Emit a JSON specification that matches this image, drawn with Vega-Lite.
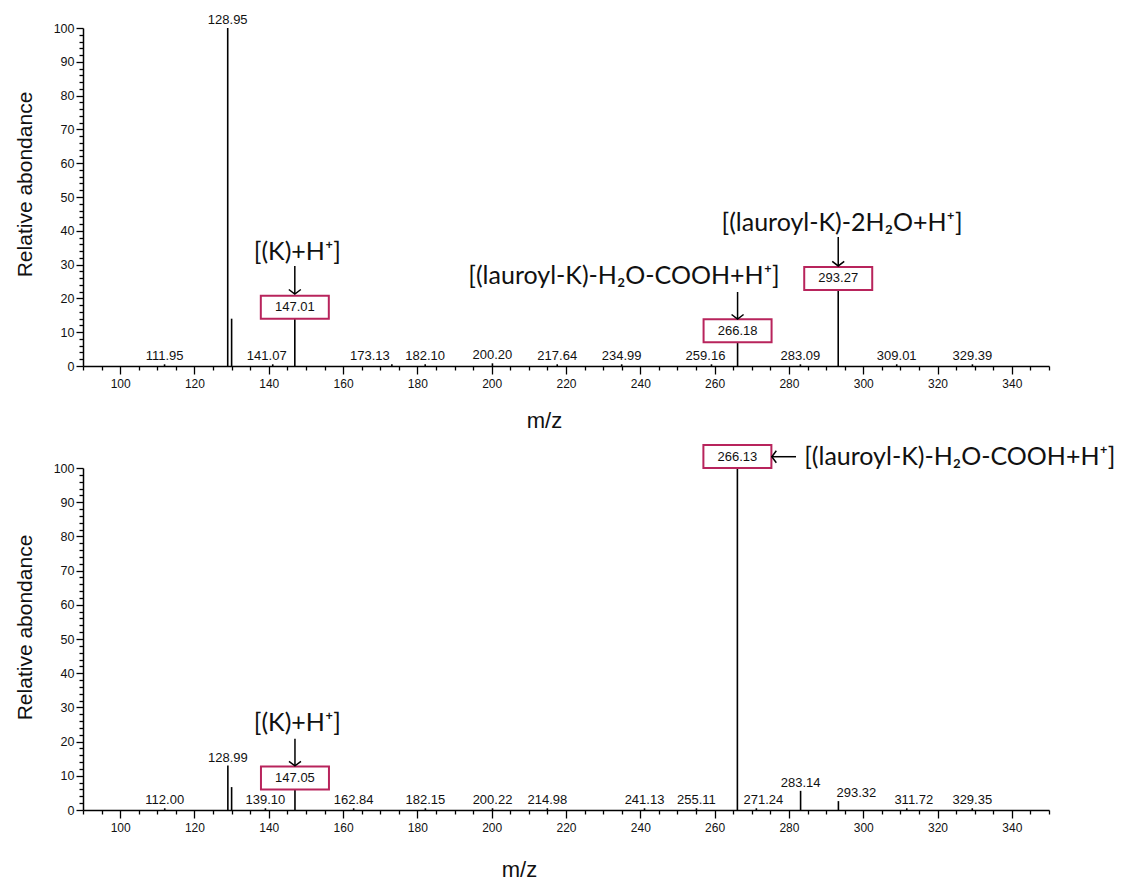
{
  "$schema": "https://vega.github.io/schema/vega-lite/v6.json",
  "padding": {"left": 14, "top": 14, "right": 2, "bottom": 0},
  "background": "white",
  "config": {
    "view": {"stroke": null},
    "font": "Liberation Sans",
    "axis": {
      "grid": false,
      "domainColor": "#000000",
      "domainWidth": 1.5,
      "tickColor": "#000000",
      "tickWidth": 1.3,
      "labelColor": "#111111",
      "labelFont": "Liberation Sans",
      "labelOverlap": false,
      "labelFlush": false,
      "titleColor": "#111111",
      "titleFont": "Liberation Sans",
      "titleFontWeight": "normal"
    }
  },
  "bounds": "flush",
  "spacing": 102,
  "vconcat": [
    {
      "width": 966,
      "height": 338,
      "encoding": {
        "x": {
          "field": "mz", "type": "quantitative",
          "scale": {"domain": [90, 350], "nice": false, "zero": false},
          "axis": {
            "values": [90,95,100,105,110,115,120,125,130,135,140,145,150,155,160,165,170,175,180,185,190,195,200,205,210,215,220,225,230,235,240,245,250,255,260,265,270,275,280,285,290,295,300,305,310,315,320,325,330,335,340,345,350],
            "labelExpr": "datum.value % 20 === 0 && datum.value >= 100 ? datum.label : ''",
            "tickSize": {"condition": {"test": "datum.value % 20 === 0", "value": 8}, "value": 4},
            "labelFontSize": 12,
            "labelPadding": 4,
            "title": "m/z",
            "titleFontSize": 22,
            "titleX": 461,
            "titleY": 61,
            "titleAlign": "center",
            "titleBaseline": "alphabetic"
          }
        },
        "y": {
          "field": "ab", "type": "quantitative",
          "scale": {"domain": [0, 100], "nice": false},
          "axis": {
            "values": [0,2,4,6,8,10,12,14,16,18,20,22,24,26,28,30,32,34,36,38,40,42,44,46,48,50,52,54,56,58,60,62,64,66,68,70,72,74,76,78,80,82,84,86,88,90,92,94,96,98,100],
            "labelExpr": "datum.value % 10 === 0 ? datum.label : ''",
            "tickSize": {"condition": {"test": "datum.value % 10 === 0", "value": 7}, "value": 4},
            "labelFontSize": 12.5,
            "labelPadding": 2,
            "title": "Relative abondance",
            "titleFontSize": 21,
            "titleX": -58,
            "titleY": 156,
            "titleAlign": "center",
            "titleBaseline": "middle",
            "titleAngle": 270
          }
        }
      },
      "layer": [
        {
          "data": {"name": "peaksTop", "values": [
            {"mz": 111.95, "ab": 0.5, "label": "111.95", "kind": "plain"},
            {"mz": 128.95, "ab": 100, "label": "128.95", "kind": "plain"},
            {"mz": 130.0, "ab": 14, "label": "", "kind": "none"},
            {"mz": 141.07, "ab": 0.5, "label": "141.07", "kind": "plain"},
            {"mz": 147.01, "ab": 14, "label": "147.01", "kind": "box"},
            {"mz": 173.13, "ab": 0.5, "label": "173.13", "kind": "plain"},
            {"mz": 182.10, "ab": 0.5, "label": "182.10", "kind": "plain"},
            {"mz": 200.20, "ab": 0.8, "label": "200.20", "kind": "plain"},
            {"mz": 217.64, "ab": 0.5, "label": "217.64", "kind": "plain"},
            {"mz": 234.99, "ab": 0.5, "label": "234.99", "kind": "plain"},
            {"mz": 259.16, "ab": 0.5, "label": "259.16", "kind": "plain"},
            {"mz": 266.18, "ab": 7, "label": "266.18", "kind": "box"},
            {"mz": 283.09, "ab": 0.5, "label": "283.09", "kind": "plain"},
            {"mz": 293.27, "ab": 22.5, "label": "293.27", "kind": "box"},
            {"mz": 309.01, "ab": 0.5, "label": "309.01", "kind": "plain"},
            {"mz": 329.39, "ab": 0.5, "label": "329.39", "kind": "plain"}
          ]},
          "mark": {"type": "rule", "color": "#000000", "strokeWidth": 1.6},
          "encoding": {"y2": {"datum": 0}}
        },
        {
          "data": {"name": "peaksTop"},
          "transform": [{"filter": "datum.kind === 'plain' && datum.label !== '173.13' && datum.label !== '141.07' && datum.label !== '259.16'"}],
          "mark": {"type": "text", "fontSize": 13, "baseline": "bottom", "dy": -1, "color": "#111111", "font": "Liberation Sans"},
          "encoding": {"text": {"field": "label"}}
        },
        {
          "data": {"name": "peaksTop"},
          "transform": [{"filter": "datum.label === '173.13'"}],
          "mark": {"type": "text", "fontSize": 13, "baseline": "bottom", "dy": -1, "dx": -22, "color": "#111111", "font": "Liberation Sans"},
          "encoding": {"text": {"field": "label"}}
        },
        {
          "data": {"name": "peaksTop"},
          "transform": [{"filter": "datum.label === '141.07' || datum.label === '259.16'"}],
          "mark": {"type": "text", "fontSize": 13, "baseline": "bottom", "dy": -1, "dx": -6, "color": "#111111", "font": "Liberation Sans"},
          "encoding": {"text": {"field": "label"}}
        },
        {
          "data": {"name": "peaksTop"},
          "transform": [{"filter": "datum.kind === 'box'"}],
          "mark": {"type": "point", "shape": "M-1,-0.676H1V0H-1Z", "size": 4624, "filled": true, "fill": "#ffffff", "stroke": "#b8245c", "strokeWidth": 2, "opacity": 1, "fillOpacity": 1, "strokeOpacity": 1}
        },
        {
          "data": {"name": "peaksTop"},
          "transform": [{"filter": "datum.kind === 'box'"}],
          "mark": {"type": "text", "fontSize": 13, "baseline": "middle", "dy": -11.5, "color": "#111111", "font": "Liberation Sans"},
          "encoding": {"text": {"field": "label"}}
        },
        {
          "data": {"name": "arrowsTop", "values": [
            {"mz": 147.01, "ab": 29.6, "mz2": 147.01, "ab2": 21.3, "dir": "down"},
            {"mz": 266.18, "ab": 21.9, "mz2": 266.18, "ab2": 13.9, "dir": "down"},
            {"mz": 293.27, "ab": 38.2, "mz2": 293.27, "ab2": 29.6, "dir": "down"}
          ]},
          "mark": {"type": "rule", "color": "#000000", "strokeWidth": 1.5},
          "encoding": {"x2": {"field": "mz2"}, "y2": {"field": "ab2"}}
        },
        {
          "data": {"name": "arrowsTop"},
          "mark": {"type": "point", "size": 144, "filled": false, "stroke": "#000000", "strokeWidth": 1.5, "opacity": 1},
          "encoding": {
            "x": {"field": "mz2", "type": "quantitative"},
            "y": {"field": "ab2", "type": "quantitative"},
            "shape": {"field": "dir", "type": "nominal", "scale": {"domain": ["down", "left"], "range": ["M-1,-0.75L0,0L1,-0.75", "M0.75,-1L0,0L0.75,1"]}, "legend": null}
          }
        },
        {
          "data": {"values": [
            {"mz": 147.7, "ab": 33.7, "text": "[(K)+H⁺]"},
            {"mz": 235.6, "ab": 26.6, "text": "[(lauroyl-K)-H₂O-COOH+H⁺]"},
            {"mz": 294.3, "ab": 42.3, "text": "[(lauroyl-K)-2H₂O+H⁺]"}
          ]},
          "mark": {"type": "text", "font": "Lato", "fontSize": 25, "baseline": "middle", "align": "center", "color": "#111111"},
          "encoding": {"text": {"field": "text"}}
        }
      ]
    },
    {
      "width": 966,
      "height": 342,
      "encoding": {
        "x": {
          "field": "mz", "type": "quantitative",
          "scale": {"domain": [90, 350], "nice": false, "zero": false},
          "axis": {
            "values": [90,95,100,105,110,115,120,125,130,135,140,145,150,155,160,165,170,175,180,185,190,195,200,205,210,215,220,225,230,235,240,245,250,255,260,265,270,275,280,285,290,295,300,305,310,315,320,325,330,335,340,345,350],
            "labelExpr": "datum.value % 20 === 0 && datum.value >= 100 ? datum.label : ''",
            "tickSize": {"condition": {"test": "datum.value % 20 === 0", "value": 8}, "value": 4},
            "labelFontSize": 12,
            "labelPadding": 4,
            "title": "m/z",
            "titleFontSize": 22,
            "titleX": 436,
            "titleY": 66,
            "titleAlign": "center",
            "titleBaseline": "alphabetic"
          }
        },
        "y": {
          "field": "ab", "type": "quantitative",
          "scale": {"domain": [0, 100], "nice": false},
          "axis": {
            "values": [0,2,4,6,8,10,12,14,16,18,20,22,24,26,28,30,32,34,36,38,40,42,44,46,48,50,52,54,56,58,60,62,64,66,68,70,72,74,76,78,80,82,84,86,88,90,92,94,96,98,100],
            "labelExpr": "datum.value % 10 === 0 ? datum.label : ''",
            "tickSize": {"condition": {"test": "datum.value % 10 === 0", "value": 7}, "value": 4},
            "labelFontSize": 12.5,
            "labelPadding": 2,
            "title": "Relative abondance",
            "titleFontSize": 21,
            "titleX": -58,
            "titleY": 159,
            "titleAlign": "center",
            "titleBaseline": "middle",
            "titleAngle": 270
          }
        }
      },
      "layer": [
        {
          "data": {"name": "peaksBottom", "values": [
            {"mz": 112.00, "ab": 0.5, "label": "112.00", "kind": "plain"},
            {"mz": 128.99, "ab": 13, "label": "128.99", "kind": "plain"},
            {"mz": 130.0, "ab": 6.7, "label": "", "kind": "none"},
            {"mz": 139.10, "ab": 0.5, "label": "139.10", "kind": "plain"},
            {"mz": 147.05, "ab": 6, "label": "147.05", "kind": "box"},
            {"mz": 162.84, "ab": 0.5, "label": "162.84", "kind": "plain"},
            {"mz": 182.15, "ab": 0.5, "label": "182.15", "kind": "plain"},
            {"mz": 200.22, "ab": 0.5, "label": "200.22", "kind": "plain"},
            {"mz": 214.98, "ab": 0.5, "label": "214.98", "kind": "plain"},
            {"mz": 241.13, "ab": 0.5, "label": "241.13", "kind": "plain"},
            {"mz": 255.11, "ab": 0.5, "label": "255.11", "kind": "plain"},
            {"mz": 266.13, "ab": 100, "label": "266.13", "kind": "box"},
            {"mz": 271.24, "ab": 0.5, "label": "271.24", "kind": "plain"},
            {"mz": 283.14, "ab": 5.6, "label": "283.14", "kind": "plain"},
            {"mz": 293.32, "ab": 2.6, "label": "293.32", "kind": "plain"},
            {"mz": 311.72, "ab": 0.5, "label": "311.72", "kind": "plain"},
            {"mz": 329.35, "ab": 0.5, "label": "329.35", "kind": "plain"}
          ]},
          "mark": {"type": "rule", "color": "#000000", "strokeWidth": 1.6},
          "encoding": {"y2": {"datum": 0}}
        },
        {
          "data": {"name": "peaksBottom"},
          "transform": [{"filter": "datum.kind === 'plain' && datum.label !== '271.24' && datum.label !== '293.32' && datum.label !== '311.72'"}],
          "mark": {"type": "text", "fontSize": 13, "baseline": "bottom", "dy": -1, "color": "#111111", "font": "Liberation Sans"},
          "encoding": {"text": {"field": "label"}}
        },
        {
          "data": {"name": "peaksBottom"},
          "transform": [{"filter": "datum.label === '271.24' || datum.label === '311.72'"}],
          "mark": {"type": "text", "fontSize": 13, "baseline": "bottom", "dy": -1, "dx": 7, "color": "#111111", "font": "Liberation Sans"},
          "encoding": {"text": {"field": "label"}}
        },
        {
          "data": {"name": "peaksBottom"},
          "transform": [{"filter": "datum.label === '293.32'"}],
          "mark": {"type": "text", "fontSize": 13, "baseline": "bottom", "dy": -1, "dx": 18, "color": "#111111", "font": "Liberation Sans"},
          "encoding": {"text": {"field": "label"}}
        },
        {
          "data": {"name": "peaksBottom"},
          "transform": [{"filter": "datum.kind === 'box'"}],
          "mark": {"type": "point", "shape": "M-1,-0.676H1V0H-1Z", "size": 4624, "filled": true, "fill": "#ffffff", "stroke": "#b8245c", "strokeWidth": 2, "opacity": 1, "fillOpacity": 1, "strokeOpacity": 1}
        },
        {
          "data": {"name": "peaksBottom"},
          "transform": [{"filter": "datum.kind === 'box'"}],
          "mark": {"type": "text", "fontSize": 13, "baseline": "middle", "dy": -11.5, "color": "#111111", "font": "Liberation Sans"},
          "encoding": {"text": {"field": "label"}}
        },
        {
          "data": {"name": "arrowsBottom", "values": [
            {"mz": 147.05, "ab": 20.8, "mz2": 147.05, "ab2": 12.9, "dir": "down"},
            {"mz": 281.9, "ab": 103.3, "mz2": 275.4, "ab2": 103.3, "dir": "left"}
          ]},
          "mark": {"type": "rule", "color": "#000000", "strokeWidth": 1.5},
          "encoding": {"x2": {"field": "mz2"}, "y2": {"field": "ab2"}}
        },
        {
          "data": {"name": "arrowsBottom"},
          "mark": {"type": "point", "size": 144, "filled": false, "stroke": "#000000", "strokeWidth": 1.5, "opacity": 1},
          "encoding": {
            "x": {"field": "mz2", "type": "quantitative"},
            "y": {"field": "ab2", "type": "quantitative"},
            "shape": {"field": "dir", "type": "nominal", "scale": {"domain": ["down", "left"], "range": ["M-1,-0.75L0,0L1,-0.75", "M0.75,-1L0,0L0.75,1"]}, "legend": null}
          }
        },
        {
          "data": {"values": [
            {"mz": 147.7, "ab": 25.4, "text": "[(K)+H⁺]"}
          ]},
          "mark": {"type": "text", "font": "Lato", "fontSize": 25, "baseline": "middle", "align": "center", "color": "#111111"},
          "encoding": {"text": {"field": "text"}}
        },
        {
          "data": {"values": [
            {"mz": 284.1, "ab": 103.3, "text": "[(lauroyl-K)-H₂O-COOH+H⁺]"}
          ]},
          "mark": {"type": "text", "font": "Lato", "fontSize": 25, "baseline": "middle", "align": "left", "color": "#111111"},
          "encoding": {"text": {"field": "text"}}
        }
      ]
    }
  ]
}
